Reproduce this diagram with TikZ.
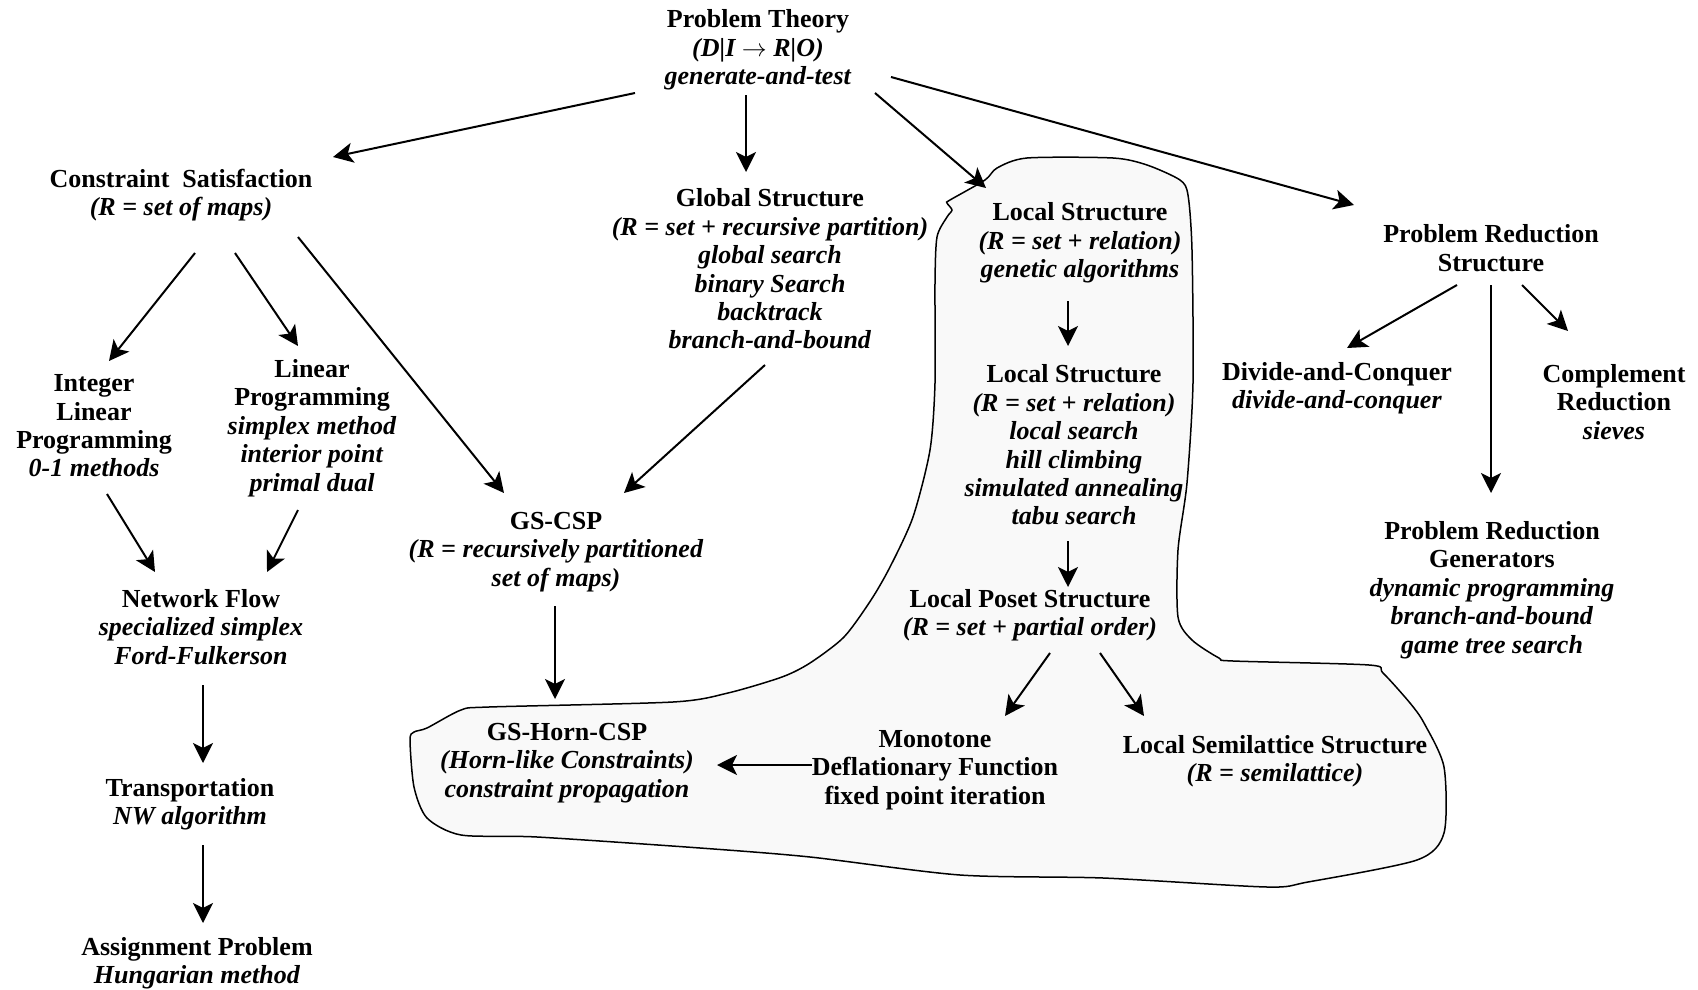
\documentclass[tikz,border=0pt]{standalone}
\usepackage{fontspec}
\setmainfont{Liberation Serif}
\usetikzlibrary{arrows.meta,calc}
\definecolor{blobgray}{gray}{0.975}
\tikzset{
    lbl/.style={align=center, inner sep=0pt, font=\fontsize{26}{28.4}\selectfont\bfseries},
    arr/.style={line width=2pt, -{Stealth[length=20pt,width=20pt,inset=5pt]}},
}
\begin{document}
\begin{tikzpicture}[x=1pt, y=-1pt]
    \useasboundingbox (0,0) rectangle (1698,990);
    % local search region
    \draw[line width=1.5pt, fill=blobgray] plot[smooth cycle, tension=0.45] coordinates {
        (985,180) (997,168) (1027,158) (1113,158) (1147,165) (1180,180) (1188,195)
        (1192,250) (1193,383) (1187,483) (1178,550) (1178,617) (1192,640) (1219,658)
        (1233,661) (1369,665) (1383,673) (1410,703) (1424,723) (1444,767) (1444,833)
        (1417,860) (1308,882) (1267,887) (1103,878) (960,875) (810,857) (700,848)
        (537,837) (461,835) (427,818) (414,787) (410,740) (414,732) (427,728) (461,710)
        (489,707) (673,702) (728,693) (782,677) (810,663) (844,637) (871,600) (890,567)
        (913,517) (930,450) (935,383) (935,283) (937,237) (947,217) (952,210) (947,203)
        (950,200)};
    % nodes
    \node[lbl] (pt) at (758,50) {Problem Theory\\\textit{(D|I $\rightarrow$ R|O)}\\\textit{generate-and-test}};
    \node[lbl] (cs) at (181,195) {Constraint~~Satisfaction\\\textit{(R = set of maps)}};
    \node[lbl] (gs) at (770,269) {Global Structure\\\textit{(R = set + recursive partition)}\\\textit{global search}\\\textit{binary Search}\\\textit{backtrack}\\\textit{branch-and-bound}};
    \node[lbl] (ls1) at (1080,243) {Local Structure\\\textit{(R = set + relation)}\\\textit{genetic algorithms}};
    \node[lbl] (ls2) at (1074,445) {Local Structure\\\textit{(R = set + relation)}\\\textit{local search}\\\textit{hill climbing}\\\textit{simulated annealing}\\\textit{tabu search}};
    \node[lbl] (lps) at (1030,615) {Local Poset Structure\\\textit{(R = set + partial order)}};
    \node[lbl] (prs) at (1491,248) {Problem Reduction\\Structure};
    \node[lbl] (ilp) at (94,426) {Integer\\Linear\\Programming\\\textit{0-1 methods}};
    \node[lbl] (lp) at (312,428) {Linear\\Programming\\\textit{simplex method}\\\textit{interior point}\\\textit{primal dual}};
    \node[lbl] (gscsp) at (556,552) {GS-CSP\\\textit{(R = recursively partitioned}\\\textit{set of maps)}};
    \node[lbl] (dc) at (1337,388) {Divide-and-Conquer\\\textit{divide-and-conquer}};
    \node[lbl] (cr) at (1614,402) {Complement\\Reduction\\\textit{sieves}};
    \node[lbl] (prg) at (1492,590) {Problem Reduction\\Generators\\\textit{dynamic programming}\\\textit{branch-and-bound}\\\textit{game tree search}};
    \node[lbl] (nf) at (201,627) {Network Flow\\\textit{specialized simplex}\\\textit{Ford-Fulkerson}};
    \node[lbl] (tr) at (190,804) {Transportation\\\textit{NW algorithm}};
    \node[lbl] (ap) at (197,963) {Assignment Problem\\\textit{Hungarian method}};
    \node[lbl] (horn) at (567,763) {GS-Horn-CSP\\\textit{(Horn-like Constraints)}\\\textit{constraint propagation}};
    \node[lbl] (mono) at (935,770) {Monotone\\Deflationary Function\\fixed point iteration};
    \node[lbl] (semi) at (1275,761) {Local Semilattice Structure\\\textit{(R = semilattice)}};
    % arrows
    \draw[arr] ($(pt)+(-123,43)$) -- ($(cs)+(152,-38)$);
    \draw[arr] ($(pt)+(-12,45)$) -- ($(gs)+(-24,-97)$);
    \draw[arr] ($(pt)+(117,43)$) -- ($(ls1)+(-94,-55)$);
    \draw[arr] ($(pt)+(133,27)$) -- ($(prs)+(-137,-43)$);
    \draw[arr] ($(cs)+(14,58)$) -- ($(ilp)+(15,-65)$);
    \draw[arr] ($(cs)+(54,58)$) -- ($(lp)+(-14,-82)$);
    \draw[arr] ($(cs)+(117,42)$) -- ($(gscsp)+(-52,-59)$);
    \draw[arr] ($(gs)+(-5,96)$) -- ($(gscsp)+(68,-59)$);
    \draw[arr] ($(ilp)+(13,68)$) -- ($(nf)+(-46,-55)$);
    \draw[arr] ($(lp)+(-14,82)$) -- ($(nf)+(66,-55)$);
    \draw[arr] ($(nf)+(2,58)$) -- ($(tr)+(13,-41)$);
    \draw[arr] ($(tr)+(13,41)$) -- ($(ap)+(6,-40)$);
    \draw[arr] ($(gscsp)+(-1,54)$) -- ($(horn)+(-12,-64)$);
    \draw[arr] ($(ls1)+(-12,58)$) -- ($(ls2)+(-6,-99)$);
    \draw[arr] ($(ls2)+(-6,96)$) -- ($(lps)+(38,-28)$);
    \draw[arr] ($(lps)+(20,38)$) -- ($(mono)+(70,-54)$);
    \draw[arr] ($(lps)+(70,38)$) -- ($(semi)+(-131,-45)$);
    \draw[arr] ($(mono)+(-123,-5)$) -- ($(horn)+(150,2)$);
    \draw[arr] ($(prs)+(-34,37)$) -- ($(dc)+(10,-40)$);
    \draw[arr] ($(prs)+(0,37)$) -- ($(prg)+(-1,-97)$);
    \draw[arr] ($(prs)+(31,37)$) -- ($(cr)+(-46,-71)$);
\end{tikzpicture}
\end{document}
